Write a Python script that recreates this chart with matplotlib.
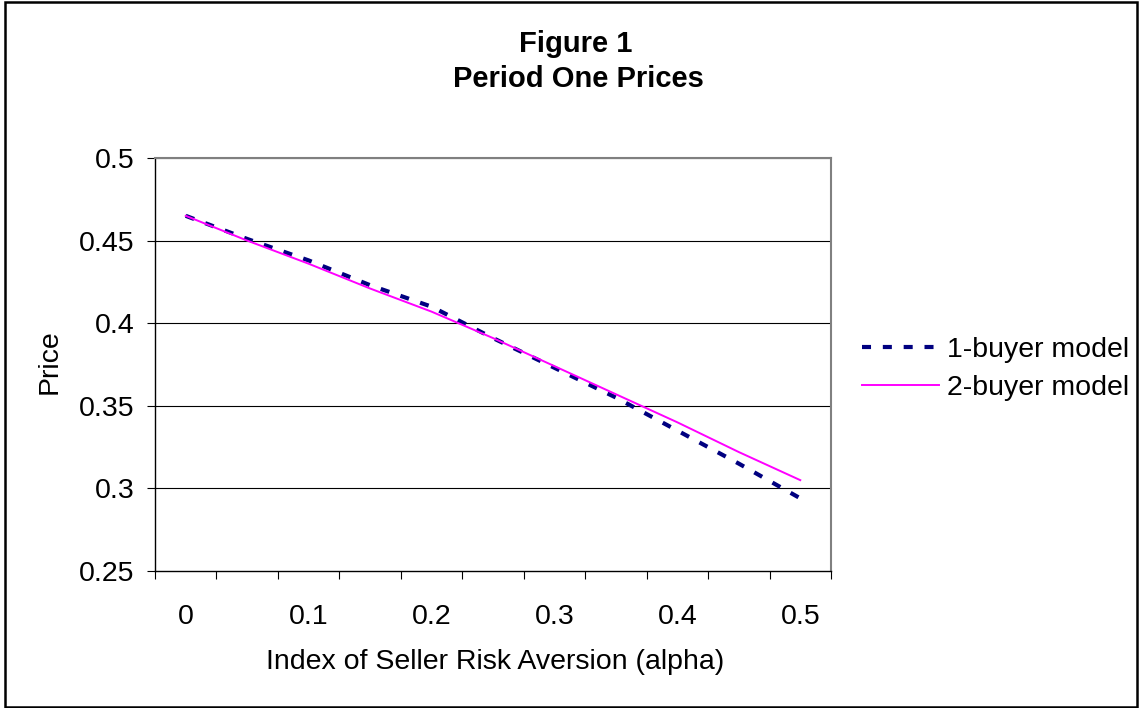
import matplotlib
matplotlib.use("Agg")
import matplotlib.pyplot as plt
from matplotlib.patches import Rectangle
import numpy as np

# seller risk aversion (category axis) and first-period prices
alpha = [0.0, 0.05, 0.1, 0.15, 0.2, 0.25, 0.3, 0.35, 0.4, 0.45, 0.5]
price_1buyer = [0.465, 0.451, 0.438, 0.423, 0.410, 0.391, 0.373, 0.355, 0.335, 0.315, 0.294]
price_2buyer = [0.465, 0.450, 0.436, 0.421, 0.407, 0.391, 0.374, 0.357, 0.340, 0.322, 0.305]
y_ticks = [0.25, 0.3, 0.35, 0.4, 0.45, 0.5]

plt.rcParams["font.family"] = ["Liberation Sans", "DejaVu Sans"]
plt.rcParams["lines.scale_dashes"] = False

FS = 20.5   # body text size
W, H = 1140, 708
fig = plt.figure(figsize=(W / 100, H / 100), dpi=100)
fig.patch.set_facecolor("white")

# plot area in pixel box: x 155..831, y 158..571
ax = fig.add_axes([155 / W, 1 - 571 / H, 676 / W, 413 / H])

idx = np.arange(len(alpha))
ax.plot(idx, price_1buyer, color="#000080", lw=3.0, dashes=(6.5, 8.5),
        dash_capstyle="butt", label="1-buyer model", zorder=3)
ax.plot(idx, price_2buyer, color="#FF00FF", lw=1.4, label="2-buyer model", zorder=4)

ax.set_xlim(-0.5, len(alpha) - 0.5)
ax.set_ylim(0.25, 0.5)

# gridlines
for yv in y_ticks[1:]:
    ax.axhline(yv, color="black", lw=0.8, zorder=1)

# y axis
ax.set_yticks(y_ticks)
ax.set_yticklabels([f"{v:g}" for v in y_ticks])
ax.tick_params(axis="y", direction="out", length=6, width=0.8, pad=9, labelsize=FS)

# x axis: tick marks between categories, labels on every other category
ax.set_xticks(idx[::2])
ax.set_xticklabels([f"{alpha[i]:g}" for i in idx[::2]])
ax.set_xticks(np.arange(-0.5, len(alpha)), minor=True)
ax.tick_params(axis="x", which="major", length=0, pad=24, labelsize=FS)
ax.tick_params(axis="x", which="minor", direction="out", length=6, width=0.8)

for side in ("left", "bottom"):
    ax.spines[side].set_color("black")
    ax.spines[side].set_linewidth(1.0)
for side in ("top", "right"):
    ax.spines[side].set_color("#808080")
    ax.spines[side].set_linewidth(1.5)

# titles and axis labels
fig.text(576 / W, 1 - 52 / H, "Figure 1", ha="center", va="baseline",
         fontsize=21, fontweight="bold")
fig.text(578 / W, 1 - 87 / H, "Period One Prices", ha="center", va="baseline",
         fontsize=21, fontweight="bold")
fig.text(495 / W, 1 - 662 / H, "Index of Seller Risk Aversion (alpha)",
         ha="center", va="center", fontsize=FS)
fig.text(50 / W, 1 - 362 / H, "Price", ha="center", va="center",
         rotation=90, fontsize=FS)

leg = ax.legend(loc="center left", bbox_to_anchor=(862 / W, 1 - 369 / H),
                bbox_transform=fig.transFigure, frameon=False, fontsize=FS,
                handlelength=2.7, handletextpad=0.3, labelspacing=0.4,
                borderpad=0, borderaxespad=0)

# chart border
fig.patches.append(Rectangle((5 / W, 1 - 707 / H), 1132 / W, 705 / H,
                             transform=fig.transFigure, fill=False,
                             edgecolor="black", lw=1.8))

fig.savefig("out.png", dpi=100)
